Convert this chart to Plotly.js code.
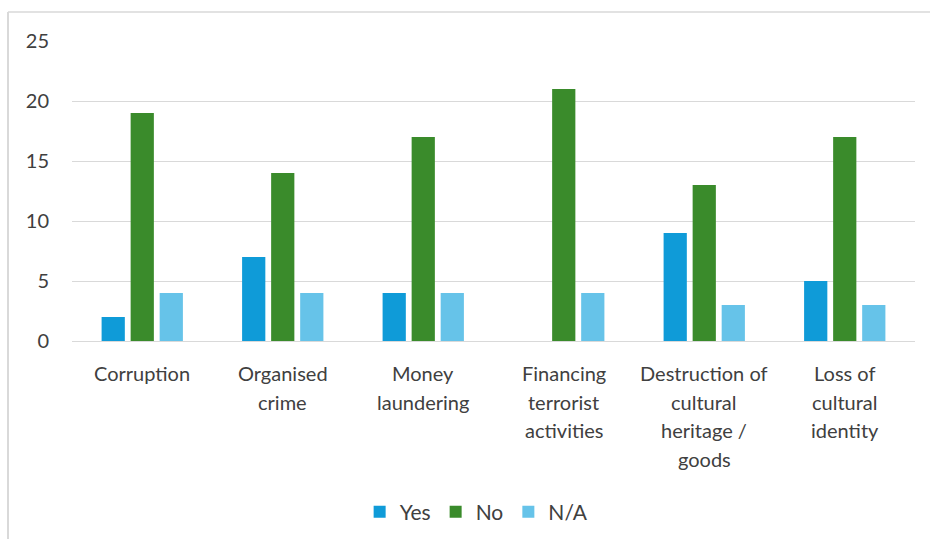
<!DOCTYPE html>
<html>
<head>
<meta charset="utf-8">
<script src="https://cdn.plot.ly/plotly-3.0.1.min.js"></script>
<style>html,body{margin:0;padding:0;background:#fff;}#chart{width:930px;height:540px;}</style>
</head>
<body>
<div id="chart"></div>
<script>
const categories = ["Corruption", "Organised<br>crime", "Money<br>laundering", "Financing<br>terrorist<br>activities", "Destruction of<br>cultural<br>heritage /<br>goods", "Loss of<br>cultural<br>identity"];
const yesValues = [2, 7, 4, 0, 9, 5];
const noValues = [19, 14, 17, 21, 13, 17];
const naValues = [4, 4, 4, 4, 3, 3];
const yTicks = [0, 5, 10, 15, 20, 25];

const FONT = "Lato, 'Open Sans', sans-serif";
const TXT = "#404040";

function bar(name, vals, color) {
  return {
    type: "bar", name: name, x: categories, y: vals,
    marker: {color: color, line: {width: 0}},
    hoverinfo: "y+name"
  };
}

const data = [
  bar("Yes", yesValues, "#0f9bd8"),
  bar("No", noValues, "#3a8b2b"),
  bar("N/A", naValues, "#66c3e9")
];

const annotations = [];
const lineGap = 28.5, plotH = 300;
categories.forEach((c) => {
  c.split("<br>").forEach((ln, i) => {
    annotations.push({
      x: c, xref: "x", yref: "paper",
      y: -(32 + i * lineGap) / plotH,
      yanchor: "middle", xanchor: "center",
      text: ln, showarrow: false,
      font: {family: FONT, size: 20, color: TXT}
    });
  });
});

const layout = {
  width: 930, height: 540,
  margin: {l: 72, r: 15, t: 41, b: 199, autoexpand: false},
  paper_bgcolor: "#ffffff", plot_bgcolor: "#ffffff",
  font: {family: FONT, size: 20, color: TXT},
  barmode: "group", bargap: 0.38, bargroupgap: 0.2,
  xaxis: {type: "category", showticklabels: false, showgrid: false, zeroline: false,
          showline: true, linecolor: "#d9d9d9", linewidth: 1, ticks: "", automargin: false},
  yaxis: {range: [0, 25], tickvals: yTicks, ticktext: yTicks.map(String), automargin: false,
          showgrid: true, gridcolor: "#d9d9d9", gridwidth: 1, zeroline: false,
          showline: false, ticks: "", ticklabelstandoff: 22,
          tickfont: {family: FONT, size: 20, color: TXT}},
  showlegend: true,
  legend: {orientation: "h", x: 0.48, xanchor: "center", y: -0.57, yanchor: "middle",
           font: {family: FONT, size: 21, color: TXT}, itemwidth: 30, tracegroupgap: 0},
  annotations: annotations,
  shapes: [
    {type: "line", xref: "paper", yref: "paper", x0: -0.0759, x1: 1.02, y0: 1.0967, y1: 1.0967,
     line: {color: "#d9d9d9", width: 1.5}},
    {type: "line", xref: "paper", yref: "paper", x0: -0.0759, x1: -0.0759, y0: 1.0967, y1: -0.66,
     line: {color: "#d9d9d9", width: 2}}
  ]
};

Plotly.newPlot("chart", data, layout, {displayModeBar: false, staticPlot: true});
</script>
</body>
</html>
